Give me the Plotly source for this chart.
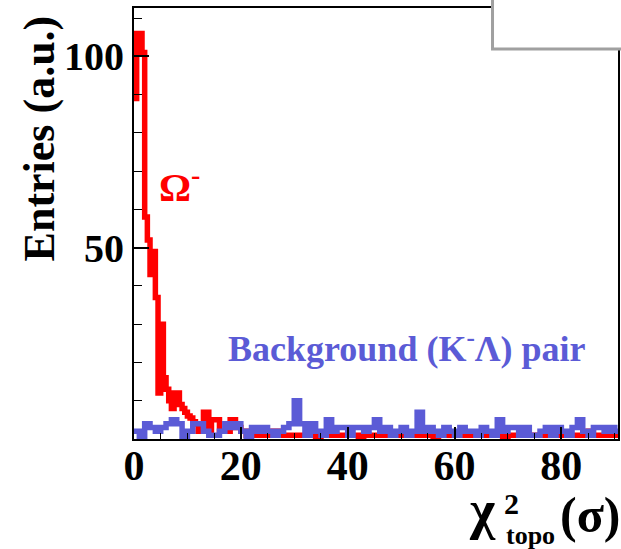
import numpy as np
import plotly.graph_objects as go

# ---------------- data ----------------
# Omega- signal: fine bins (0.5 wide) from 0 to 20, then 1-unit bins 20..91
red_fine_width = 0.5
red_fine = [89, 106, 106, 101, 58, 52, 43, 49, 37, 12,
            30, 16, 13, 10, 8, 12, 12, 9, 8, 7,
            6, 5.5, 4.5, 4, 2, 2, 7, 7, 2, 5,
            5, 5, 2, 2, 2, 2, 5, 5, 3, 3]
red_tail_start = 20
red_tail = [2, 1, 2, 1, 1, 1, 2, 1, 1, 1, 1, 1, 1, 1, 0, 1, 1, 1, 1, 1,
            1, 1, 0, 1, 1, 1, 1, 1, 1, 1, 1, 1, 1, 1, 1, 1, 0, 1, 1, 1,
            1, 1, 1, 1, 1, 1, 1, 1, 1, 0, 1, 1, 1, 1, 1, 1, 1, 1, 1, 1,
            1, 1, 1, 1, 1, 2, 1, 1, 1, 1, 1]
# Background (K- Lambda) pair: 1-unit bins from 0
blue_counts = [2, 0, 4, 3, 2, 3, 4, 5, 4, 0, 2, 4, 4, 2, 1, 1, 2, 4, 3, 4,
               2, 0, 3, 2, 3, 2, 1, 2, 3, 4, 10, 4, 1, 4, 2, 1, 5, 2, 3, 3,
               1, 3, 3, 2, 3, 5, 2, 3, 1, 2, 3, 1, 2, 7, 2, 3, 2, 1, 3, 2,
               1, 3, 2, 2, 1, 3, 2, 1, 5, 2, 3, 3, 1, 3, 1, 1, 2, 3, 1, 3,
               2, 1, 3, 5, 2, 1, 3, 3, 2, 3, 2]
x_ticks = [0, 20, 40, 60, 80]
y_ticks = [50, 100]
x_range = [0, 90.6]
y_range = [0, 112.65]

RED = "#ff0000"
BLUE = "#5b5bd6"
FONT = "Liberation Serif, Times New Roman, serif"

# build step outlines
red_x = list(np.arange(len(red_fine)) * red_fine_width) + \
    list(red_tail_start + np.arange(len(red_tail)))
red_y = list(red_fine) + list(red_tail)
red_x.append(red_tail_start + len(red_tail))
red_y.append(red_tail[-1])

blue_x = list(np.arange(len(blue_counts))) + [len(blue_counts)]
blue_y = list(blue_counts) + [blue_counts[-1]]

fig = go.Figure()
fig.add_trace(go.Scatter(x=red_x, y=red_y, mode="lines", line_shape="hv",
                         line=dict(color=RED, width=5.5), showlegend=False))
fig.add_trace(go.Scatter(x=blue_x, y=blue_y, mode="lines", line_shape="hv",
                         line=dict(color=BLUE, width=5.5), showlegend=False))

W_PX, H_PX = 621, 549
L, R, T, B = 134, 620, 8, 439


def px_x(px):
    return (px - L) / (R - L)


def px_y(py):
    return (B - py) / (B - T)


fig.update_layout(
    width=W_PX, height=H_PX, autosize=False,
    margin=dict(l=L, r=W_PX - R, t=T, b=H_PX - B),
    paper_bgcolor="white", plot_bgcolor="white",
    xaxis=dict(range=x_range, tickvals=x_ticks, ticks="inside", ticklen=12,
               tickwidth=1.5, tickcolor="black", ticklabelstandoff=-11,
               minor=dict(ticks="inside", dtick=5, ticklen=6, tickcolor="black", tickwidth=1.2),
               showline=True, linecolor="black", linewidth=2, mirror=True,
               showgrid=False, zeroline=False,
               tickfont=dict(family=FONT, size=42, color="black", weight="bold")),
    yaxis=dict(range=y_range, tickvals=y_ticks, ticks="inside", ticklen=15,
               tickwidth=1.5, tickcolor="black",
               minor=dict(ticks="inside", dtick=10, ticklen=8, tickcolor="black", tickwidth=1.2),
               showline=True, linecolor="black", linewidth=2, mirror=True,
               showgrid=False, zeroline=False,
               tickfont=dict(family=FONT, size=40, color="black", weight="bold")),
)

annos = [
    dict(text="Entries (a.u.)", x=px_x(39), y=px_y(138), textangle=-90,
         font=dict(family=FONT, size=44, color="black", weight="bold"),
         xanchor="center", yanchor="middle"),
    dict(text="Ω<sup>-</sup>", x=px_x(157), y=px_y(184),
         font=dict(family=FONT, size=40, color=RED, weight="bold"),
         xanchor="left", yanchor="middle"),
    dict(text="Background (K<sup>-</sup>Λ) pair", x=px_x(226), y=px_y(346),
         font=dict(family=FONT, size=36, color=BLUE, weight="bold"),
         xanchor="left", yanchor="middle"),
    dict(text="χ", x=px_x(468), y=px_y(510),
         font=dict(family=FONT, size=54, color="black", weight="bold"),
         xanchor="left", yanchor="middle"),
    dict(text="2", x=px_x(504), y=px_y(503),
         font=dict(family=FONT, size=30, color="black", weight="bold"),
         xanchor="left", yanchor="middle"),
    dict(text="topo", x=px_x(506), y=px_y(535),
         font=dict(family=FONT, size=26, color="black", weight="bold"),
         xanchor="left", yanchor="middle"),
    dict(text="(σ)", x=px_x(560), y=px_y(515),
         font=dict(family=FONT, size=50, color="black", weight="bold"),
         xanchor="left", yanchor="middle"),
]
for a in annos:
    a.update(xref="paper", yref="paper", showarrow=False)
fig.update_layout(annotations=annos)

# stat-box remnant at top right
fig.add_shape(type="rect", xref="paper", yref="paper",
              x0=px_x(494), x1=px_x(640), y0=px_y(49), y1=px_y(-20),
              fillcolor="white", line=dict(color="#a0a0a0", width=3), layer="above")

fig.write_html("out.html")
